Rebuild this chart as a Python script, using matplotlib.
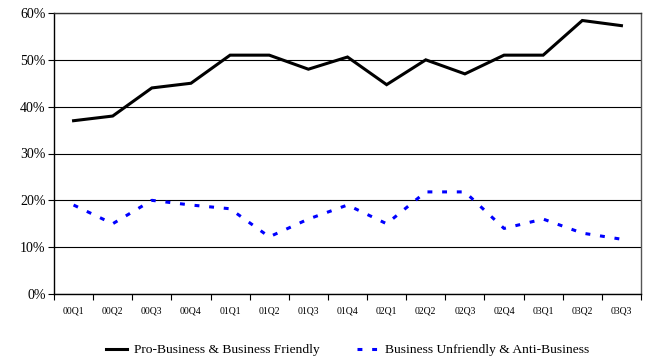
import matplotlib
matplotlib.use("Agg")
import matplotlib.pyplot as plt
from matplotlib.ticker import MultipleLocator, FuncFormatter, FixedLocator
import numpy as np

quarters = ["00Q1", "00Q2", "00Q3", "00Q4", "01Q1", "01Q2", "01Q3", "01Q4",
            "02Q1", "02Q2", "02Q3", "02Q4", "03Q1", "03Q2", "03Q3"]
pro_business = [37, 38, 44, 45, 51, 51, 48, 50.6, 44.7, 50, 47, 51, 51, 58.4, 57.3]
anti_business = [19, 15, 20, 19, 18.2, 12.2, 16, 19, 15, 21.8, 21.8, 14, 16, 13, 11.7]

plt.rcParams["font.family"] = ["Liberation Serif", "DejaVu Serif"]

fig = plt.figure(figsize=(6.45, 3.58), dpi=100)
ax = fig.add_axes([54 / 645, 1 - 294 / 358, (641 - 54) / 645, (294 - 13) / 358])

x = np.arange(len(quarters))
ax.plot(x, pro_business, color="black", lw=2.2, solid_joinstyle="miter",
        label="Pro-Business & Business Friendly", zorder=3)
ax.plot(x, anti_business, color="#0000ff", lw=2.2, linestyle=(0, (1.6, 3.2)),
        label="Business Unfriendly & Anti-Business", zorder=3)

ax.set_xlim(-0.5, len(quarters) - 0.5)
ax.set_ylim(0, 60)
ax.yaxis.set_major_locator(MultipleLocator(10))
ax.yaxis.set_major_formatter(FuncFormatter(lambda v, p: f"{v:.0f}%"))
ax.grid(axis="y", color="black", lw=0.8)
ax.set_axisbelow(True)

ax.set_xticks(x)
ax.set_xticklabels(quarters, fontsize=7)
ax.xaxis.set_minor_locator(FixedLocator(np.arange(-0.5, len(quarters), 1)))
ax.tick_params(axis="x", which="major", length=0, pad=9)
ax.tick_params(axis="x", which="minor", length=4, direction="out", width=0.8)
ax.tick_params(axis="y", length=4, direction="out", width=0.8, labelsize=10, pad=2)

for side in ["left", "bottom"]:
    ax.spines[side].set_color("black")
    ax.spines[side].set_linewidth(1.0)
ax.spines["top"].set_color("#333333")
ax.spines["top"].set_linewidth(1.0)
ax.spines["right"].set_color("#555555")
ax.spines["right"].set_linewidth(1.0)

leg = ax.legend(loc="center", bbox_to_anchor=(0.5, -0.2), ncol=2, frameon=False,
                fontsize=9.7, handlelength=1.55, columnspacing=2.8, handletextpad=0.5)

fig.savefig("out.png", dpi=100)
